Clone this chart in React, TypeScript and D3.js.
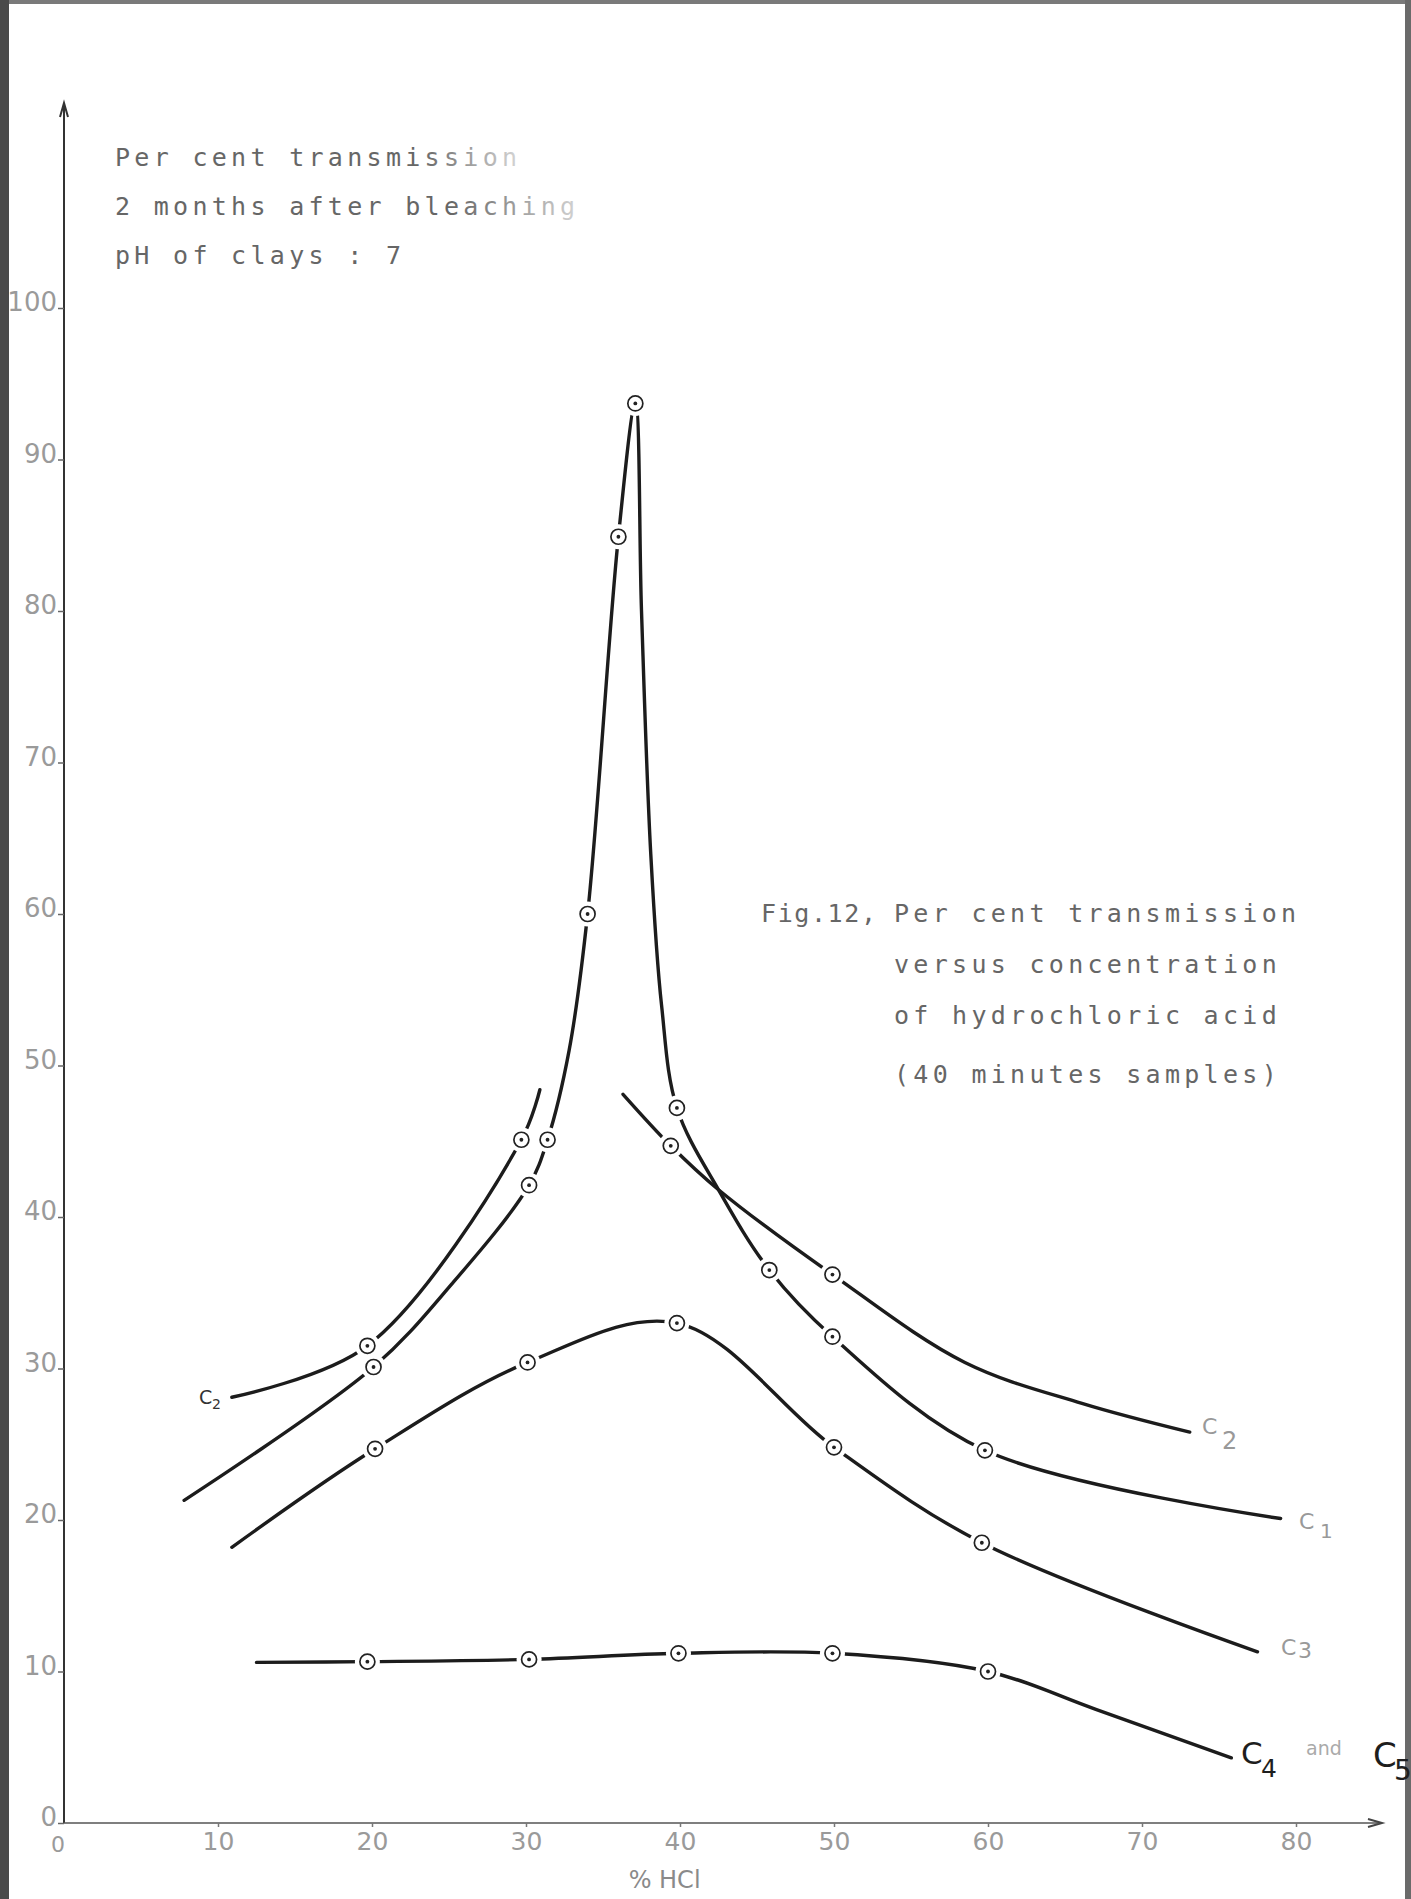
import React, { useEffect, useRef } from "react";
import * as d3 from "d3";

// Axis ticks
const xTicks = [10, 20, 30, 40, 50, 60, 70, 80];
const yTicks = [0, 10, 20, 30, 40, 50, 60, 70, 80, 90, 100];

// C1 - the sharp peak curve (traced line and measured points)
const c1LineX = [7.8, 20.1, 25.2, 30.2, 31.4, 32.8, 34.0, 36.0, 37.1, 37.5, 38.1, 38.8, 39.8, 42.5, 45.8, 49.9, 59.8, 79.0];
const c1LineY = [21.3, 30.1, 35.6, 42.1, 45.1, 51.0, 60.0, 84.9, 93.7, 80.0, 64.0, 54.0, 47.2, 41.8, 36.5, 32.1, 24.6, 20.1];
const c1DotX = [20.1, 30.2, 31.4, 34.0, 36.0, 37.1, 39.8, 45.8, 49.9, 59.8];
const c1DotY = [30.1, 42.1, 45.1, 60.0, 84.9, 93.7, 47.2, 36.5, 32.1, 24.6];

// C2 - drawn in two pieces
const c2LeftX = [10.9, 19.7, 29.7, 30.9];
const c2LeftY = [28.1, 31.5, 45.1, 48.4];
const c2RightX = [36.3, 39.4, 42.5, 49.9, 58.5, 66.1, 73.1];
const c2RightY = [48.1, 44.7, 41.8, 36.2, 30.4, 27.7, 25.8];
const c2DotX = [19.7, 29.7, 39.4, 49.9];
const c2DotY = [31.5, 45.1, 44.7, 36.2];

// C3
const c3LineX = [10.9, 20.2, 30.1, 39.8, 50.0, 59.6, 77.5];
const c3LineY = [18.2, 24.7, 30.4, 33.0, 24.8, 18.5, 11.3];
const c3DotX = [20.2, 30.1, 39.8, 50.0, 59.6];
const c3DotY = [24.7, 30.4, 33.0, 24.8, 18.5];

// C4 and C5
const c4LineX = [12.5, 19.7, 30.2, 39.9, 49.9, 60.0, 67.0, 75.8];
const c4LineY = [10.6, 10.65, 10.8, 11.2, 11.2, 10.0, 7.5, 4.3];
const c4DotX = [19.7, 30.2, 39.9, 49.9, 60.0];
const c4DotY = [10.65, 10.8, 11.2, 11.2, 10.0];

const noteLines = ["Per cent transmission", "2 months after bleaching", "pH of clays : 7"];
const captionLines = ["Per cent transmission", "versus concentration", "of hydrochloric acid", "(40 minutes samples)"];

const width = 1411;
const height = 1899;
const mono = "'DejaVu Sans Mono', monospace";
const sans = "'DejaVu Sans', sans-serif";

const App = () => {
  const xAxisRef = useRef<SVGGElement>(null);
  const yAxisRef = useRef<SVGGElement>(null);

  const x = d3.scaleLinear().domain([0, 80]).range([64, 1296]);
  const y = d3.scaleLinear().domain([0, 100]).range([1823, 308]);

  const line = d3
    .line<[number, number]>()
    .x((d) => x(d[0]))
    .y((d) => y(d[1]))
    .curve(d3.curveCatmullRom.alpha(0.5));

  const curves = [
    d3.zip(c1LineX, c1LineY),
    d3.zip(c2LeftX, c2LeftY),
    d3.zip(c2RightX, c2RightY),
    d3.zip(c3LineX, c3LineY),
    d3.zip(c4LineX, c4LineY),
  ] as [number, number][][];

  const dots = [
    ...d3.zip(c1DotX, c1DotY),
    ...d3.zip(c2DotX, c2DotY),
    ...d3.zip(c3DotX, c3DotY),
    ...d3.zip(c4DotX, c4DotY),
  ] as [number, number][];

  useEffect(() => {
    // x axis ticks + labels
    d3.select(xAxisRef.current)
      .attr("transform", `translate(0,${y(0)})`)
      .call(d3.axisBottom(x).tickValues(xTicks).tickSize(4).tickPadding(5))
      .attr("font-family", sans)
      .attr("font-size", 25)
      .call((g) => g.select(".domain").remove())
      .call((g) => g.selectAll(".tick line").attr("stroke", "#777").attr("stroke-width", 1.5))
      .call((g) => g.selectAll(".tick text").attr("fill", "#9a9a9a"));

    // y axis ticks + labels
    d3.select(yAxisRef.current)
      .attr("transform", `translate(${x(0)},0)`)
      .call(d3.axisLeft(y).tickValues(yTicks).tickSize(6).tickPadding(1))
      .attr("font-family", sans)
      .attr("font-size", 26)
      .call((g) => g.select(".domain").remove())
      .call((g) => g.selectAll(".tick line").attr("stroke", "#666").attr("stroke-width", 1.5))
      .call((g) => g.selectAll(".tick text").attr("fill", "#9a9a9a").attr("dy", "0.1em"));
  }, []);

  return (
    <div>
      <style>{"body{margin:0}"}</style>
      <svg width={width} height={height} style={{ display: "block", background: "#fff" }}>
        <defs>
          <linearGradient id="fade1" gradientUnits="userSpaceOnUse" x1={420} x2={525} y1={0} y2={0}>
            <stop offset="0" stopColor="#666" />
            <stop offset="1" stopColor="#dcdcdc" />
          </linearGradient>
          <linearGradient id="fade2" gradientUnits="userSpaceOnUse" x1={450} x2={580} y1={0} y2={0}>
            <stop offset="0" stopColor="#666" />
            <stop offset="1" stopColor="#d4d4d4" />
          </linearGradient>
        </defs>

        {/* scanned page edges */}
        <rect x={0} y={0} width={width} height={4} fill="#7a7a7a" />
        <rect x={0} y={0} width={9} height={height} fill="#4a4a4a" />
        <rect x={width - 6} y={0} width={6} height={height} fill="#6a6a6a" />

        {/* axes lines with arrows */}
        <line x1={x(0)} x2={x(0)} y1={y(0)} y2={105} stroke="#333" strokeWidth={2} />
        <path d={`M${x(0) - 4},${117} L${x(0)},${103} L${x(0) + 4},${117}`} fill="none" stroke="#333" strokeWidth={2} />
        <line x1={x(0)} x2={1380} y1={y(0)} y2={y(0)} stroke="#555" strokeWidth={1.6} />
        <path d={`M${1368},${y(0) - 4} L${1382},${y(0)} L${1368},${y(0) + 4}`} fill="none" stroke="#444" strokeWidth={2} />
        <g ref={xAxisRef} />
        <g ref={yAxisRef} />
        <text x={x(0) - 6} y={1852} fontFamily={sans} fontSize={22} fill="#9a9a9a" textAnchor="middle">0</text>
        <text x={x(39)} y={1888} fontFamily={sans} fontSize={24} fill="#8a8a8a" textAnchor="middle">% HCl</text>

        {/* curves */}
        {curves.map((c, i) => (
          <path key={i} d={line(c) ?? ""} fill="none" stroke="#1c1c1c" strokeWidth={3.4} strokeLinecap="round" />
        ))}
        {dots.map((d, i) => (
          <circle key={"h" + i} cx={x(d[0])} cy={y(d[1])} r={12.5} fill="#fff" />
        ))}
        {dots.map((d, i) => (
          <g key={"d" + i}>
            <circle cx={x(d[0])} cy={y(d[1])} r={7.5} fill="none" stroke="#222" strokeWidth={1.7} />
            <circle cx={x(d[0])} cy={y(d[1])} r={1.9} fill="#222" />
          </g>
        ))}

        {/* typed notes */}
        <g fontFamily={mono} fontSize={25} letterSpacing={4.3}>
          {noteLines.map((t, i) => (
            <text key={i} x={115} y={166 + i * 49} fill={i === 0 ? "url(#fade1)" : i === 1 ? "url(#fade2)" : "#666"}>
              {t}
            </text>
          ))}
          <text x={761} y={922} fill="#666" letterSpacing={1.6}>Fig.12,</text>
          {captionLines.map((t, i) => (
            <text key={"c" + i} x={894} y={922 + i * 51 + (i === 3 ? 8 : 0)} fill="#666">
              {t}
            </text>
          ))}
        </g>

        {/* curve labels */}
        <g fontFamily={sans}>
          <text x={199} y={1404} fontSize={19} fill="#333">C</text>
          <text x={212} y={1409} fontSize={14} fill="#333">2</text>
          <text x={1202} y={1434} fontSize={22} fill="#999">C</text>
          <text x={1222} y={1449} fontSize={24} fill="#999">2</text>
          <text x={1299} y={1529} fontSize={22} fill="#999">C</text>
          <text x={1320} y={1538} fontSize={20} fill="#999">1</text>
          <text x={1281} y={1655} fontSize={22} fill="#999">C</text>
          <text x={1298} y={1658} fontSize={22} fill="#999">3</text>
          <text x={1241} y={1764} fontSize={31} fill="#1e1e1e">C</text>
          <text x={1261} y={1777} fontSize={25} fill="#1e1e1e">4</text>
          <text x={1306} y={1755} fontSize={19} fill="#aaa">and</text>
          <text x={1373} y={1767} fontSize={34} fill="#1e1e1e">C</text>
          <text x={1394} y={1780} fontSize={28} fill="#1e1e1e">5</text>
        </g>
      </svg>
    </div>
  );
};

export default App;
